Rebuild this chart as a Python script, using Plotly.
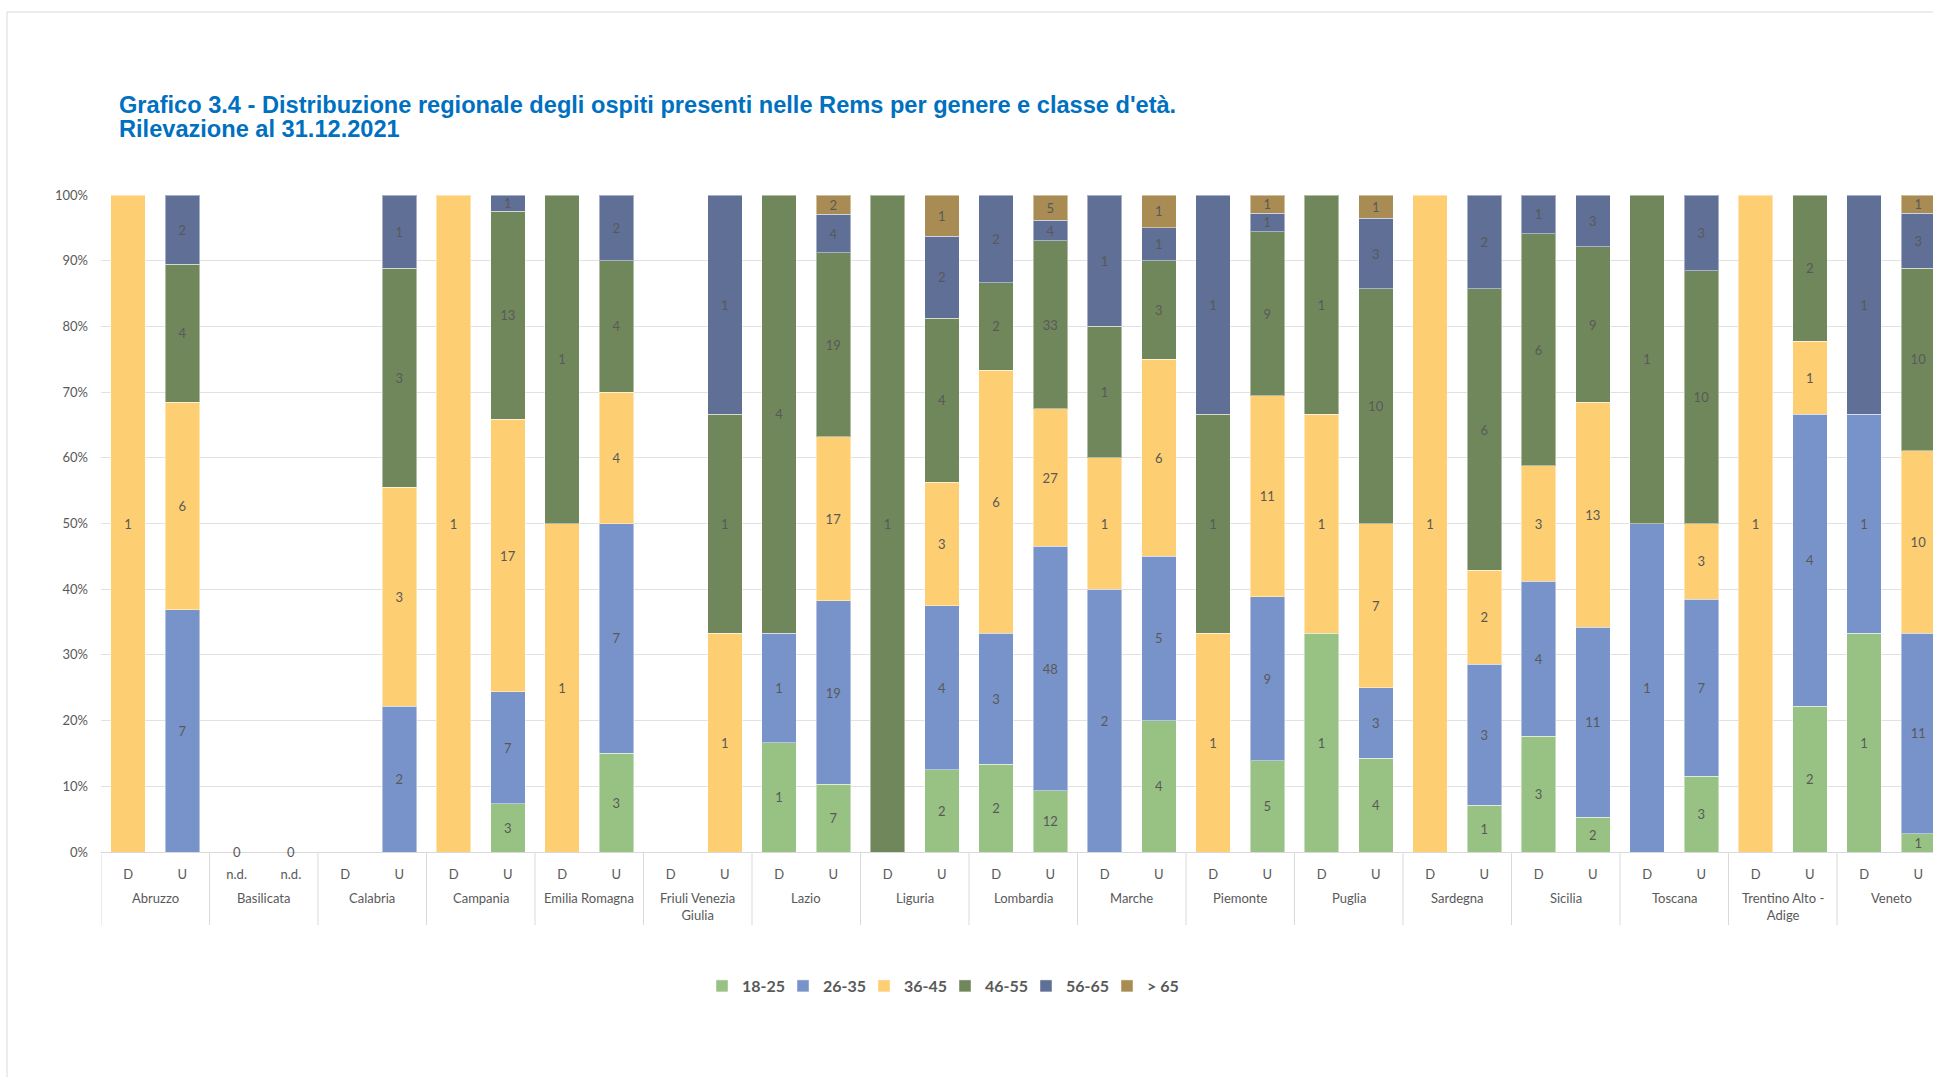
import plotly.graph_objects as go

# ---------------- data ----------------
regions = ["Abruzzo", "Basilicata", "Calabria", "Campania", "Emilia Romagna",
           "Friuli Venezia<br>Giulia", "Lazio", "Liguria", "Lombardia", "Marche",
           "Piemonte", "Puglia", "Sardegna", "Sicilia", "Toscana",
           "Trentino Alto -<br>Adige", "Veneto"]
sub_labels = ["D", "U", "n.d.", "n.d.", "D", "U", "D", "U", "D", "U", "D", "U",
              "D", "U", "D", "U", "D", "U", "D", "U", "D", "U", "D", "U",
              "D", "U", "D", "U", "D", "U", "D", "U", "D", "U"]
age_classes = ["18-25", "26-35", "36-45", "46-55", "56-65", "> 65"]
y_tick_vals = [0, 10, 20, 30, 40, 50, 60, 70, 80, 90, 100]
y_tick_text = ["0%", "10%", "20%", "30%", "40%", "50%", "60%", "70%", "80%", "90%", "100%"]

N = None
a18_25 = [N, N, 0, 0, N, N, N, 3, N, 3, N, N, 1, 7, N, 2, 2, 12, N, 4, N, 5, 1, 4, N, 1, 3, 2, N, 3, N, 2, 1, 1]
a26_35 = [N, 7, N, N, N, 2, N, 7, N, 7, N, N, 1, 19, N, 4, 3, 48, 2, 5, N, 9, N, 3, N, 3, 4, 11, 1, 7, N, 4, 1, 11]
a36_45 = [1, 6, N, N, N, 3, 1, 17, 1, 4, N, 1, N, 17, N, 3, 6, 27, 1, 6, 1, 11, 1, 7, 1, 2, 3, 13, N, 3, 1, 1, N, 10]
a46_55 = [N, 4, N, N, N, 3, N, 13, 1, 4, N, 1, 4, 19, 1, 4, 2, 33, 1, 3, 1, 9, 1, 10, N, 6, 6, 9, 1, 10, N, 2, N, 10]
a56_65 = [N, 2, N, N, N, 1, N, 1, N, 2, N, 1, N, 4, N, 2, 2, 4, 1, 1, 1, 1, N, 3, N, 2, 1, 3, N, 3, N, N, 1, 3]
a65_up = [N, N, N, N, N, N, N, N, N, N, N, N, N, 2, N, 1, N, 5, N, 1, N, 1, N, 1, N, N, N, N, N, N, N, N, N, 1]

series = [a18_25, a26_35, a36_45, a46_55, a56_65, a65_up]
colors = ["#97C283", "#7893C9", "#FDCE72", "#70875C", "#5F6F96", "#A98C53"]

title_l1 = "Grafico 3.4 - Distribuzione regionale degli ospiti presenti nelle Rems per genere e classe d'età."
title_l2 = "Rilevazione al 31.12.2021"

# ---------------- figure ----------------
W, H = 1933, 1077
ML, MT, MB = 101, 195, 225
plot_w = W - ML
plot_h = H - MT - MB
slot_px = 54.25

xpos = list(range(len(sub_labels)))
totals = [sum(v for v in col if v is not None) for col in zip(*series)]

GRAY = "#595959"
FONT = "Lato"

fig = go.Figure()
for name, vals, col in zip(age_classes, series, colors):
    yv = [v if (v is not None and t > 0) else None for v, t in zip(vals, totals)]
    txt = [str(v) if (v is not None and t > 0) else "" for v, t in zip(vals, totals)]
    fig.add_trace(go.Bar(
        x=xpos, y=yv, name=name, text=txt,
        marker=dict(color=col, line=dict(color="rgba(255,255,255,0.45)", width=1)),
        width=0.636,
        textposition="inside", insidetextanchor="middle", textangle=0,
        textfont=dict(family=FONT, size=13, color=GRAY),
        hoverinfo="skip",
    ))

# zero labels for bars with data value 0
for i, t in enumerate(totals):
    has_zero = any(s[i] == 0 for s in series)
    if t == 0 and has_zero:
        fig.add_annotation(x=i, y=0, xref="x", yref="y", text="0", showarrow=False,
                           yanchor="middle", font=dict(family=FONT, size=13, color=GRAY))


def py2paper(py):
    return (H - MB - py) / plot_h


# region group labels and separators
for g, reg in enumerate(regions):
    fig.add_annotation(x=2 * g + 0.5, xref="x", y=py2paper(888), yref="paper",
                       text=reg, showarrow=False, yanchor="top", align="center",
                       font=dict(family=FONT, size=13, color=GRAY))
for g in range(len(regions) + 1):
    fig.add_shape(type="line", xref="x", yref="paper", x0=2 * g - 0.5, x1=2 * g - 0.5,
                  y0=0, y1=py2paper(925), line=dict(color="#D9D9D9", width=1))

# chart area border
fig.add_shape(type="rect", xref="paper", yref="paper",
              x0=(7 - ML) / plot_w, x1=1.1, y0=py2paper(1200), y1=py2paper(12),
              line=dict(color="#D9D9D9", width=1), fillcolor="rgba(0,0,0,0)", layer="below")

# title (two lines)
for line_txt, ypx in ((title_l1, 105), (title_l2, 129)):
    fig.add_annotation(x=(117 - ML) / plot_w, xref="paper", y=py2paper(ypx), yref="paper",
                       text="<b>" + line_txt + "</b>", showarrow=False,
                       xanchor="left", yanchor="middle",
                       font=dict(family="Liberation Sans", size=23.6, color="#0070C0"))

x_right = -0.5 + plot_w / slot_px

fig.update_layout(
    width=W, height=H,
    margin=dict(l=ML, r=0, t=MT, b=MB, pad=0),
    paper_bgcolor="white", plot_bgcolor="white",
    barmode="stack", barnorm="percent",
    uniformtext=dict(minsize=13, mode="show"),
    font=dict(family=FONT, color=GRAY),
    showlegend=True,
    legend=dict(orientation="h", x=(945 - ML) / plot_w, xanchor="center",
                y=py2paper(986), yanchor="middle",
                font=dict(family=FONT, size=16, color=GRAY, weight="bold"),
                itemwidth=30, entrywidth=36, traceorder="normal"),
    xaxis=dict(range=[-0.5, x_right], tickmode="array", tickvals=xpos, ticktext=sub_labels,
               tickangle=0, showgrid=False, zeroline=False, showline=True,
               linecolor="#D9D9D9", linewidth=1, ticks="", ticklabelstandoff=10,
               tickfont=dict(family=FONT, size=13, color=GRAY), fixedrange=True),
    yaxis=dict(range=[0, 100], tickmode="array", tickvals=y_tick_vals, ticktext=y_tick_text,
               showgrid=True, gridcolor="rgba(205,205,205,0.6)", gridwidth=1,
               zeroline=False, showline=False, ticks="", ticklabelstandoff=12,
               layer="above traces",
               tickfont=dict(family=FONT, size=13, color=GRAY), fixedrange=True),
)

fig.write_html("out.html", config={"displayModeBar": False},
               post_script="document.body.style.margin='0px';document.body.style.overflow='hidden';")
